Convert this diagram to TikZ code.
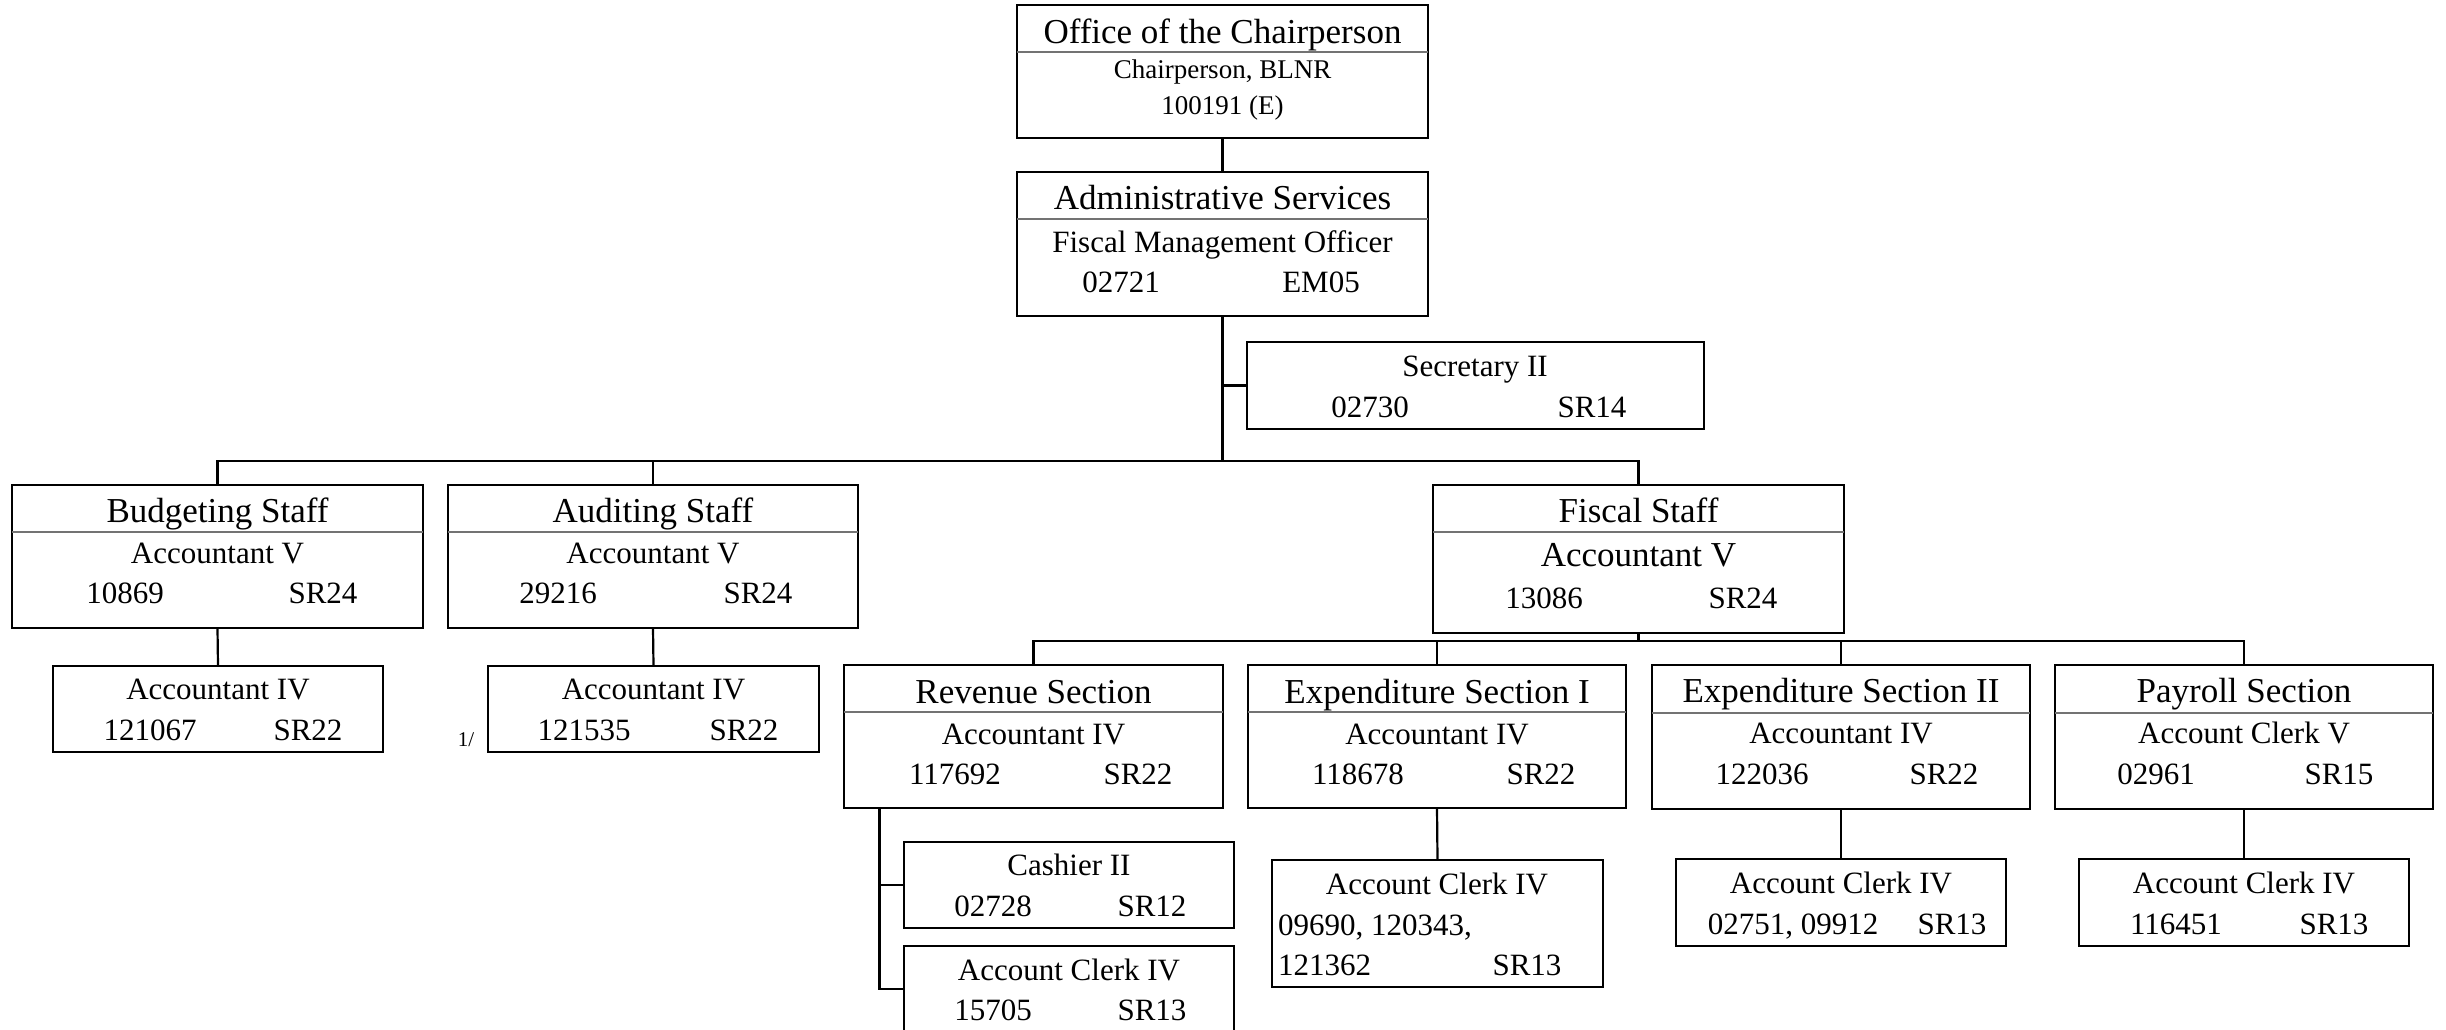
\documentclass[tikz,border=0pt]{standalone}
\usepackage{fontspec}
\setmainfont{Liberation Serif}
\newcommand{\bx}[5]{\node[box, minimum width={(#4-#2)*1pt}, minimum height={(#5-#3)*1pt}] (#1) at ({(#2+#4)/2},{(#3+#5)/2}) {};}
\newcommand{\dv}[2]{\draw[divline] (#1.west |- 0,#2) -- (#1.east |- 0,#2);}
\begin{document}
\begin{tikzpicture}[x=1pt,y=-1pt,
  box/.style={draw, line width=2.6pt, inner sep=0pt, outer sep=0pt},
  divline/.style={line width=1.8pt, draw=black!55},
  conn/.style={line width=2.2pt},
  ttl/.style={anchor=base, inner sep=0pt, font=\fontsize{35}{40}\selectfont},
  txt/.style={anchor=base, inner sep=0pt, font=\fontsize{31}{36}\selectfont},
  sml/.style={anchor=base, inner sep=0pt, font=\fontsize{27}{32}\selectfont},
  tiny/.style={anchor=base, inner sep=0pt, font=\fontsize{21}{25}\selectfont}]
\useasboundingbox (0,0) rectangle (2446,1029);
\clip (0,0) rectangle (2446,1029);
% boxes
\bx{office}{1017}{5}{1428}{138}
\bx{admin}{1017}{172}{1428}{316}
\bx{sec}{1247}{342}{1704}{429}
\bx{budget}{12}{485}{423}{628}
\bx{budsub}{53}{666}{383}{752}
\bx{audit}{448}{485}{858}{628}
\bx{audsub}{488}{666}{819}{752}
\bx{fiscal}{1433}{485}{1844}{633}
\bx{rev}{844}{665}{1223}{808}
\bx{expa}{1248}{665}{1626}{808}
\bx{expb}{1652}{665}{2030}{809}
\bx{pay}{2055}{665}{2433}{809}
\bx{cash}{904}{842}{1234}{928}
\bx{rclerk}{904}{946}{1234}{1032}
\bx{eaclerk}{1272}{860}{1603}{987}
\bx{ebclerk}{1676}{859}{2006}{946}
\bx{pclerk}{2079}{859}{2409}{946}
% dividers
\dv{office}{52}
\dv{admin}{219}
\dv{budget}{532}
\dv{audit}{532}
\dv{fiscal}{532}
\dv{rev}{712}
\dv{expa}{712}
\dv{expb}{713}
\dv{pay}{713}
% connectors
\coordinate (bus) at (1222.5,461);
\coordinate (fbus) at (1638.5,641);
\coordinate (rv) at (879.5,808);
\draw[conn] (office.south) -- (admin.north);
\draw[conn] (admin.south) -- (bus);
\draw[conn] (sec.west) -- (sec.west -| admin.south);
\draw[conn] (budget.north) |- (bus) -| (fiscal.north);
\draw[conn] (audit.north) -- (audit.north |- bus);
\draw[conn] (budget.south) -- (budsub.north);
\draw[conn] (audit.south) -- (audsub.north);
\draw[conn] (fiscal.south) -- (fbus);
\draw[conn] (rev.north) |- (fbus) -| (pay.north);
\draw[conn] (expa.north) -- (expa.north |- fbus);
\draw[conn] (expb.north) -- (expb.north |- fbus);
\draw[conn] (rv) |- (rclerk.west);
\draw[conn] (cash.west) -- (cash.west -| rv);
\draw[conn] (expa.south) -- (eaclerk.north);
\draw[conn] (expb.south) -- (ebclerk.north);
\draw[conn] (pay.south) -- (pclerk.north);
% texts
\node[ttl] (t1) at (1222.5,43) {Office of the Chairperson};
\node[sml] (t2) at (1222.5,78) {Chairperson, BLNR};
\node[sml] (t3) at (1222.5,114) {100191 (E)};
\node[ttl] (t4) at (1222.5,209) {Administrative Services};
\node[txt] (t5) at (1222.5,252) {Fiscal Management Officer};
\node[txt] (t6) at (1121,292) {02721};
\node[txt] (t7) at (1321,292) {EM05};
\node[txt] (t8) at (1475,376) {Secretary II};
\node[txt] (t9) at (1370,417) {02730};
\node[txt] (t10) at (1592,417) {SR14};
\node[ttl] (t11) at (217.5,522) {Budgeting Staff};
\node[txt] (t12) at (217.5,563) {Accountant V};
\node[txt] (t13) at (125,603) {10869};
\node[txt] (t14) at (323,603) {SR24};
\node[txt] (t15) at (218,699) {Accountant IV};
\node[txt] (t16) at (150,740) {121067};
\node[txt] (t17) at (308,740) {SR22};
\node[ttl] (t18) at (653,522) {Auditing Staff};
\node[txt] (t19) at (653,563) {Accountant V};
\node[txt] (t20) at (558,603) {29216};
\node[txt] (t21) at (758,603) {SR24};
\node[txt] (t22) at (653.5,699) {Accountant IV};
\node[txt] (t23) at (584,740) {121535};
\node[txt] (t24) at (744,740) {SR22};
\node[tiny] (t25) at (466,746) {1/};
\node[ttl] (t26) at (1638.5,522) {Fiscal Staff};
\node[ttl] (t27) at (1638.5,566) {Accountant V};
\node[txt] (t28) at (1544,608) {13086};
\node[txt] (t29) at (1743,608) {SR24};
\node[ttl] (t30) at (1033.5,703.5) {Revenue Section};
\node[txt] (t31) at (1033.5,744) {Accountant IV};
\node[txt] (t32) at (955,784.5) {117692};
\node[txt] (t33) at (1138,784.5) {SR22};
\node[ttl] (t34) at (1437,703.5) {Expenditure Section I};
\node[txt] (t35) at (1437,744) {Accountant IV};
\node[txt] (t36) at (1358,784.5) {118678};
\node[txt] (t37) at (1541,784.5) {SR22};
\node[ttl] (t38) at (1841,702) {Expenditure Section II};
\node[txt] (t39) at (1841,743) {Accountant IV};
\node[txt] (t40) at (1762,784) {122036};
\node[txt] (t41) at (1944,784) {SR22};
\node[ttl] (t42) at (2244,702) {Payroll Section};
\node[txt] (t43) at (2244,743) {Account Clerk V};
\node[txt] (t44) at (2156,784) {02961};
\node[txt] (t45) at (2339,784) {SR15};
\node[txt] (t46) at (1069,875) {Cashier II};
\node[txt] (t47) at (993,916) {02728};
\node[txt] (t48) at (1152,916) {SR12};
\node[txt] (t49) at (1069,980) {Account Clerk IV};
\node[txt] (t50) at (993,1020) {15705};
\node[txt] (t51) at (1152,1020) {SR13};
\node[txt] (t52) at (1437,894) {Account Clerk IV};
\node[txt, anchor=base west] (t53) at (1278,935) {09690, 120343,};
\node[txt, anchor=base west] (t54) at (1278,975.5) {121362};
\node[txt] (t55) at (1527,975.5) {SR13};
\node[txt] (t56) at (1841,893) {Account Clerk IV};
\node[txt] (t57) at (1793,934) {02751, 09912};
\node[txt] (t58) at (1952,934) {SR13};
\node[txt] (t59) at (2244,893) {Account Clerk IV};
\node[txt] (t60) at (2176,934) {116451};
\node[txt] (t61) at (2334,934) {SR13};
\end{tikzpicture}
\end{document}
